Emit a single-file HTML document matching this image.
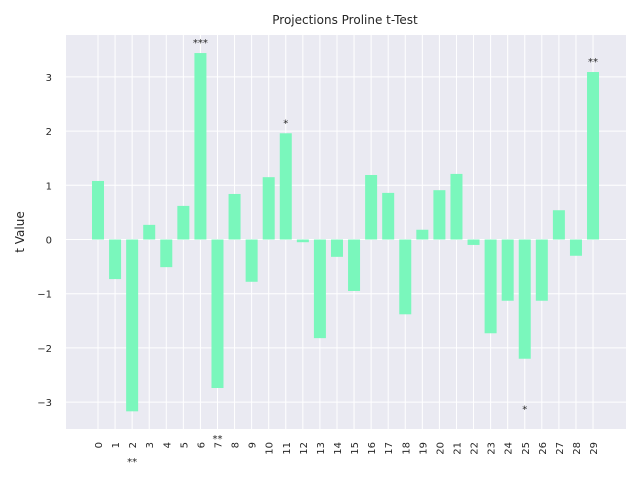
<!DOCTYPE html>
<html><head><meta charset="utf-8"><style>
body{margin:0;background:#fff;}
svg{display:block;font-family:"DejaVu Sans","Liberation Sans",sans-serif;}
</style></head><body>
<svg id="c" width="640" height="480">
<rect x="0" y="0" width="640" height="480" fill="#fff"/>
<rect x="66" y="35" width="560" height="394" fill="#EAEAF2"/>
<g id="grid"></g><g id="bars"></g><g id="labels"></g>
<text x="345" y="24" text-anchor="middle" font-size="12" fill="#262626">Projections Proline t-Test</text>
<text transform="translate(24,232) rotate(-90)" text-anchor="middle" font-size="12" fill="#262626">t Value</text>
</svg>
<script>
const categories=[0,1,2,3,4,5,6,7,8,9,10,11,12,13,14,15,16,17,18,19,20,21,22,23,24,25,26,27,28,29];
const values=[1.08,-0.73,-3.17,0.27,-0.51,0.62,3.44,-2.74,0.84,-0.78,1.15,1.96,-0.05,-1.82,-0.32,-0.95,1.19,0.86,-1.38,0.18,0.91,1.21,-0.1,-1.73,-1.13,-2.2,-1.13,0.54,-0.3,3.09];
const stars=["","","**","","","","***","**","","","","*","","","","","","","","","","","","","","*","","","","**"];
const yTicks=[-3,-2,-1,0,1,2,3];
const NS="http://www.w3.org/2000/svg";
const xs=i=>98+i*17.07;
const ys=v=>239.5-v*54.2;
function mk(t,a,p){const e=document.createElementNS(NS,t);for(const k in a)e.setAttribute(k,a[k]);p.appendChild(e);return e;}
const g=document.getElementById('grid'),b=document.getElementById('bars'),l=document.getElementById('labels');
yTicks.forEach(v=>{
 const ln=mk('line',{x1:66,x2:626,y1:ys(v),y2:ys(v),stroke:'#fff','stroke-width':1},g);
 
 
 const t=mk('text',{x:52,y:ys(v)+4,'text-anchor':'end','font-size':10,fill:'#262626'},l);
 t.textContent=v<0?'\u2212'+(-v):String(v);
 
 
});
categories.forEach((c,i)=>{
 const x=xs(i);
 const ln=mk('line',{x1:x,x2:x,y1:35,y2:429,stroke:'#fff','stroke-width':1},g);
 
 
 const v=values[i];
 const r=mk('rect',{x:x-6,width:12,y:Math.min(ys(v),ys(0)),height:Math.abs(ys(v)-ys(0)),fill:'#7AF7BC'},b);
 
 
 const t=mk('text',{transform:`translate(${x+4},442) rotate(-90)`,'text-anchor':'end','font-size':10,fill:'#262626'},l);
 t.textContent=c;
 
 
 if(stars[i]){
  const sy=v>=0?ys(v+0.2):ys(v-0.92);
  const s=mk('text',{x:x,y:sy+4,'text-anchor':'middle','font-size':10,fill:'#262626'},l);
  s.textContent=stars[i];
  
  
 }
});
</script>
</body></html>
